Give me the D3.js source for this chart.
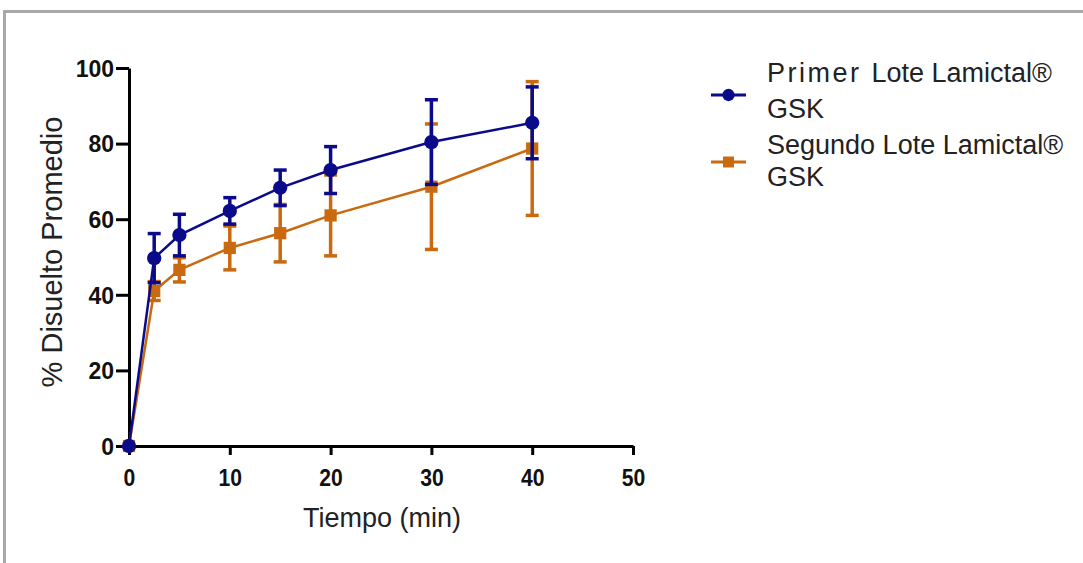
<!DOCTYPE html>
<html>
<head>
<meta charset="utf-8">
<script src="https://cdn.jsdelivr.net/npm/d3@7"></script>
<style>
  body { margin: 0; background: #fff; }
  svg { display: block; font-family: "Liberation Sans", Arial, sans-serif; }
</style>
</head>
<body>
<svg id="chart" width="1083" height="563"></svg>
<script>
// time points (min)
const times = [0, 2.5, 5, 10, 15, 20, 30, 40];
// mean % dissolved and SD per lot
const lote1Mean = [0, 49.7, 55.8, 62.2, 68.3, 73.0, 80.4, 85.5];
const lote1Sd = [0, 6.5, 5.5, 3.5, 4.7, 6.2, 11.2, 9.5];
const lote2Mean = [0, 41.0, 46.6, 52.4, 56.3, 61.0, 68.6, 78.7];
const lote2Sd = [0, 2.5, 3.2, 5.8, 7.6, 10.7, 16.6, 17.7];
const seriesNames = ["Primer Lote Lamictal\u00AE GSK", "Segundo Lote Lamictal\u00AE GSK"];
const xTicks = [0, 10, 20, 30, 40, 50];
const yTicks = [0, 20, 40, 60, 80, 100];

const svg = d3.select('#chart');

// frame around the figure
svg.append('rect')
  .attr('x', 4.5).attr('y', 11.5)
  .attr('width', 1090).attr('height', 560)
  .attr('fill', 'none').attr('stroke', '#a9a9a9').attr('stroke-width', 3);

const x = d3.scaleLinear().domain([0, 50]).range([129, 633]);
const y = d3.scaleLinear().domain([0, 100]).range([446, 68]);

// axes
const xAxis = svg.append('g')
  .attr('transform', `translate(0,${y(0)})`)
  .call(d3.axisBottom(x).tickValues(xTicks).tickSize(9).tickSizeOuter(0).tickPadding(15));
const yAxis = svg.append('g')
  .attr('transform', `translate(${x(0)},0)`)
  .call(d3.axisLeft(y).tickValues(yTicks).tickSize(13).tickSizeOuter(0).tickPadding(2));

[xAxis, yAxis].forEach(g => {
  g.select('.domain').attr('stroke', '#000').attr('stroke-width', 3);
  g.selectAll('.tick line').attr('stroke', '#000').attr('stroke-width', 3);
  g.selectAll('.tick text')
    .attr('fill', '#111')
    .style('font-size', '23px')
    .style('font-weight', 'bold');
});
yAxis.selectAll('.tick text').attr('dy', '0.36em');
// x tick labels a little condensed
xAxis.selectAll('.tick text').attr('transform', 'scale(0.92,1)');

// axis titles
svg.append('text')
  .attr('x', 382).attr('y', 527)
  .attr('text-anchor', 'middle')
  .attr('fill', '#222')
  .style('font-size', '27px')
  .text('Tiempo (min)');
svg.append('text')
  .attr('transform', 'translate(62,252) rotate(-90)')
  .attr('text-anchor', 'middle')
  .attr('fill', '#222')
  .style('font-size', '29px')
  .text('% Disuelto Promedio');

const series = [
  { mean: lote2Mean, sd: lote2Sd, color: '#c96a10', shape: d3.symbolSquare, size: 150 },
  { mean: lote1Mean, sd: lote1Sd, color: '#0a0a8a', shape: d3.symbolCircle, size: 160 }
];

const line = d3.line().x(d => x(d.t)).y(d => y(d.m));

series.forEach(s => {
  const pts = times.map((t, i) => ({ t, m: s.mean[i], sd: s.sd[i] }));
  const g = svg.append('g');

  g.append('path')
    .datum(pts)
    .attr('d', line)
    .attr('fill', 'none')
    .attr('stroke', s.color)
    .attr('stroke-width', 2.5);

  const eb = g.selectAll('.eb').data(pts.filter(d => d.sd > 0)).enter().append('g');
  eb.append('line')
    .attr('x1', d => x(d.t)).attr('x2', d => x(d.t))
    .attr('y1', d => y(d.m - d.sd)).attr('y2', d => y(d.m + d.sd))
    .attr('stroke', s.color).attr('stroke-width', 3.5);
  [-1, 1].forEach(k => {
    eb.append('line')
      .attr('x1', d => x(d.t) - 6.5).attr('x2', d => x(d.t) + 6.5)
      .attr('y1', d => y(d.m + k * d.sd)).attr('y2', d => y(d.m + k * d.sd))
      .attr('stroke', s.color).attr('stroke-width', 3.5);
  });

  g.selectAll('.pt').data(pts).enter().append('path')
    .attr('transform', d => `translate(${x(d.t)},${y(d.m)})`)
    .attr('d', d3.symbol().type(s.shape).size(s.size))
    .attr('fill', s.color);
});

// legend
const legend = [
  { name: seriesNames[0], color: '#0a0a8a', shape: d3.symbolCircle, y: 95, b1: 82, b2: 118, spacing: 2.5 },
  { name: seriesNames[1], color: '#c96a10', shape: d3.symbolSquare, y: 162, b1: 154, b2: 186, spacing: 0 }
];
legend.forEach(l => {
  const g = svg.append('g');
  g.append('line').attr('x1', 711).attr('x2', 746).attr('y1', l.y).attr('y2', l.y)
    .attr('stroke', l.color).attr('stroke-width', 3);
  g.append('path').attr('transform', `translate(728.5,${l.y})`)
    .attr('d', d3.symbol().type(l.shape).size(120)).attr('fill', l.color);
  const words = l.name.split(' ');
  const t = g.append('text').style('font-size', '27px').attr('fill', '#222');
  t.append('tspan').attr('x', 767).attr('y', l.b1)
    .style('letter-spacing', `${l.spacing}px`).text(words[0] + ' ');
  t.append('tspan').text(words.slice(1, 3).join(' '));
  t.append('tspan').attr('x', 767).attr('y', l.b2).text(words[3]);
});
</script>
</body>
</html>
